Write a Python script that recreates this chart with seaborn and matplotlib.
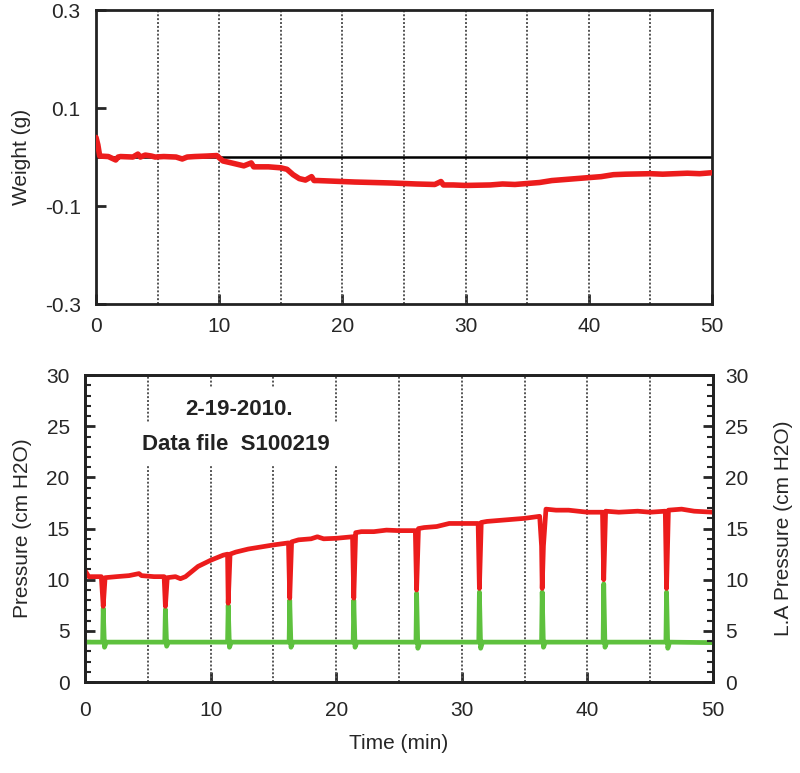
import numpy as np
import pandas as pd
import matplotlib
matplotlib.use("Agg")
import matplotlib.pyplot as plt
import seaborn as sns
from matplotlib.ticker import MultipleLocator

# weight trace (min, g)
weight_t = [0.0, 0.15, 0.3, 1.0, 1.6, 1.8, 2.0, 3.0, 3.4, 3.6, 4.0, 4.5, 4.8, 5.5, 6.5,
            7.0, 7.4, 8.0, 9.0, 9.8, 10.3, 11.0, 12.0, 12.6, 12.8, 13.0, 14.0, 15.0,
            15.5, 16.0, 16.5, 17.0, 17.5, 17.7, 18.0, 19.0, 20.0, 21.0, 22.5, 24.0,
            25.0, 26.0, 27.5, 28.0, 28.2, 29.0, 30.0, 32.0, 33.0, 34.0, 35.0, 36.0,
            37.0, 38.0, 39.0, 40.0, 41.0, 42.0, 43.0, 45.0, 46.0, 47.0, 48.0, 49.0,
            50.0]
weight_g = [0.040, 0.025, 0.002, 0.001, -0.006, 0.000, 0.001, 0.000, 0.006, 0.000, 0.004,
            0.002, 0.000, 0.001, 0.000, -0.004, 0.000, 0.001, 0.002, 0.003, -0.008,
            -0.012, -0.018, -0.012, -0.020, -0.020, -0.020, -0.022, -0.025, -0.036,
            -0.044, -0.047, -0.040, -0.048, -0.048, -0.049, -0.050, -0.051, -0.052,
            -0.053, -0.054, -0.055, -0.056, -0.050, -0.057, -0.057, -0.058, -0.057,
            -0.055, -0.056, -0.054, -0.052, -0.048, -0.046, -0.044, -0.042, -0.040,
            -0.036, -0.035, -0.034, -0.035, -0.034, -0.033, -0.034, -0.032]

# pressure trace (min, cm H2O)
pressure_t = [0.0, 0.15, 0.3, 1.3, 1.45, 1.6, 2.5, 3.5, 4.3, 4.5, 5.5, 6.3, 6.4, 6.55,
              7.2, 7.6, 8.0, 9.0, 10.0, 11.0, 11.35, 11.4, 11.55, 12.0, 13.0, 14.0,
              15.0, 16.2, 16.3, 16.45, 17.0, 18.0, 18.5, 19.0, 20.0, 21.3, 21.4, 21.55,
              22.0, 23.0, 24.0, 25.0, 26.3, 26.4, 26.55, 27.0, 28.0, 29.0, 30.0, 31.3,
              31.4, 31.55, 32.0, 33.0, 34.0, 35.0, 36.2, 36.35, 36.4, 36.5, 36.7, 37.5,
              38.5, 40.0, 41.2, 41.3, 41.45, 42.5, 44.0, 45.0, 46.2, 46.3, 46.45, 47.5,
              48.5, 50.0]
pressure_v = [10.9, 10.6, 10.3, 10.3, 7.4, 10.2, 10.3, 10.4, 10.6, 10.4, 10.3, 10.3, 7.4,
              10.2, 10.3, 10.1, 10.3, 11.3, 11.9, 12.4, 12.5, 7.7, 12.5, 12.7, 13.0,
              13.2, 13.4, 13.6, 8.2, 13.7, 13.9, 14.0, 14.2, 14.0, 14.05, 14.2, 8.2,
              14.6, 14.7, 14.7, 14.85, 14.8, 14.8, 9.0, 15.0, 15.1, 15.2, 15.5, 15.5,
              15.5, 9.15, 15.6, 15.7, 15.8, 15.9, 16.0, 16.2, 13.3, 9.15, 13.3, 16.9,
              16.8, 16.8, 16.6, 16.6, 10.0, 16.7, 16.6, 16.7, 16.6, 16.7, 9.15, 16.8,
              16.9, 16.7, 16.6]

# LA pressure trace (min, cm H2O)
la_t = [0.0, 1.4, 1.45, 1.55, 1.7, 6.35, 6.4, 6.5, 6.65, 11.35, 11.4, 11.5, 11.65,
        16.25, 16.3, 16.4, 16.55, 21.35, 21.4, 21.5, 21.65, 26.35, 26.4, 26.5, 26.65,
        31.35, 31.4, 31.5, 31.65, 36.35, 36.4, 36.5, 36.65, 41.25, 41.3, 41.4, 41.55,
        46.25, 46.3, 46.4, 46.55, 50.0]
la_v = [3.9, 3.9, 7.2, 3.4, 3.9, 3.9, 7.1, 3.5, 3.9, 3.9, 7.5, 3.4, 3.9,
        3.9, 8.0, 3.4, 3.9, 3.9, 8.0, 3.4, 3.9, 3.9, 8.7, 3.3, 3.9,
        3.9, 8.8, 3.3, 3.9, 3.9, 8.8, 3.4, 3.9, 3.9, 9.6, 3.4, 3.9,
        3.9, 8.8, 3.3, 3.9, 3.85]

x_ticks = [0, 10, 20, 30, 40, 50]
grid_x = [5, 10, 15, 20, 25, 30, 35, 40, 45]

weight = pd.DataFrame({"t": weight_t, "w": weight_g})
press = pd.DataFrame({"t": pressure_t, "p": pressure_v})
la = pd.DataFrame({"t": la_t, "p": la_v})

sns.set_style("ticks")
plt.rcParams["font.family"] = ["Liberation Sans", "DejaVu Sans"]
plt.rcParams["xtick.direction"] = "in"
plt.rcParams["ytick.direction"] = "in"

RED = "#ec1c1c"
GREEN = "#5ec13e"
GRID = "#555555"
FS = 15

fig = plt.figure(figsize=(8, 7.73), dpi=100)
fig.set_facecolor("w")
ax_w = fig.add_axes([0.12, 0.6067, 0.77, 0.3803])
ax_p = fig.add_axes([0.10625, 0.1177, 0.785, 0.397])

# top: weight
for gx in grid_x:
    ax_w.axvline(gx, color=GRID, lw=1.4, ls=(0, (1, 1)), zorder=1)
ax_w.axhline(0, color="black", lw=1.8, zorder=2)
sns.lineplot(data=weight, x="t", y="w", ax=ax_w, color=RED, lw=4,
             estimator=None, zorder=3)
ax_w.set_xlim(0, 50)
ax_w.set_ylim(-0.3, 0.3)
ax_w.set_xticks(x_ticks)
ax_w.set_yticks([-0.3, -0.1, 0.1, 0.3])
ax_w.set_yticklabels(["-0.3", "-0.1", "0.1", "0.3"])
ax_w.set_xlabel("")
ax_w.set_ylabel("Weight (g)", fontsize=FS, labelpad=10)
ax_w.tick_params(axis="x", labelsize=FS, width=2, length=7, pad=9)
ax_w.tick_params(axis="y", labelsize=FS, width=2, length=7, pad=11)

# bottom: pressures
ax_r = ax_p.twinx()
for gx in grid_x:
    ax_p.axvline(gx, color=GRID, lw=1.4, ls=(0, (1, 1)), zorder=1)
sns.lineplot(data=la, x="t", y="p", ax=ax_p, color=GREEN, lw=3.4,
             estimator=None, zorder=3)
sns.lineplot(data=press, x="t", y="p", ax=ax_p, color=RED, lw=3.4,
             estimator=None, zorder=4)
ax_p.set_xlim(0, 50)
ax_p.set_ylim(0, 30)
ax_r.set_ylim(0, 30)
ax_p.set_xticks(x_ticks)
for a in (ax_p, ax_r):
    a.yaxis.set_major_locator(MultipleLocator(5))
    a.yaxis.set_minor_locator(MultipleLocator(1))
    a.tick_params(axis="y", which="minor", width=1.5, length=4)
ax_p.tick_params(axis="y", which="major", labelsize=FS, width=2, length=7, pad=11)
ax_r.tick_params(axis="y", which="major", labelsize=FS, width=2, length=7, pad=9)
ax_p.tick_params(axis="x", labelsize=FS, width=2, length=7, pad=14)
ax_p.set_xlabel("Time (min)", fontsize=FS, labelpad=10)
ax_p.set_ylabel("Pressure (cm H2O)", fontsize=FS, labelpad=10)
ax_r.set_ylabel("L.A Pressure (cm H2O)", fontsize=FS, labelpad=18)

ax_p.text(12.3, 26.6, "2-19-2010.", ha="center", va="center", fontsize=16,
          fontweight="bold", color="#222222", zorder=5,
          bbox=dict(facecolor="white", edgecolor="none", pad=8))
ax_p.text(12.0, 23.2, "Data file  S100219", ha="center", va="center", fontsize=16,
          fontweight="bold", color="#222222", zorder=5,
          bbox=dict(facecolor="white", edgecolor="none", pad=8))

for a in (ax_w, ax_p, ax_r):
    for s in a.spines.values():
        s.set_linewidth(2)
        s.set_color("#222222")

fig.savefig("out.png", dpi=100)
